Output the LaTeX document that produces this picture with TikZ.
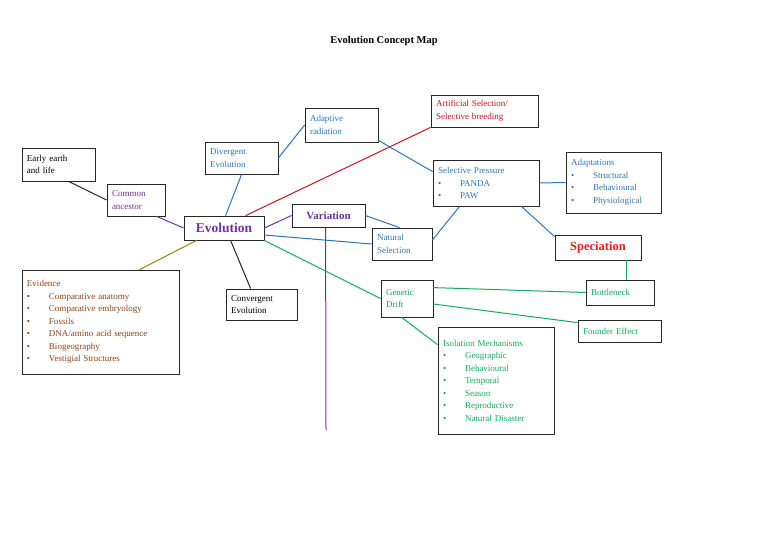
\documentclass[tikz,border=0pt]{standalone}
\usepackage{fontspec}
\setmainfont{Liberation Serif}
\usetikzlibrary{calc}
\definecolor{cblue}{RGB}{46,116,181}
\definecolor{cpurple}{RGB}{112,48,160}
\definecolor{cred}{RGB}{200,20,30}
\definecolor{cbred}{RGB}{235,25,25}
\definecolor{cgreen}{RGB}{20,170,90}
\definecolor{cbrown}{RGB}{140,65,20}
\definecolor{colive}{RGB}{150,130,30}
\newcommand{\bx}[7]{%
 \node[box,text=#6,minimum width={#4-#2},minimum height={#5-#3},text width={#4-#2-10}] (#1) at ({(#2+#4)/2},{(#3+#5)/2}) {#7};}
\newcommand{\bl}{\makebox[22pt][l]{\textbullet}}
\begin{document}
\begin{tikzpicture}[x=1pt,y=-1pt,
 box/.style={draw=black!85,line width=0.8pt,align=left,inner sep=0pt,font=\fontsize{9}{12.5}\selectfont},
 cn/.style={line width=1pt}]
\useasboundingbox (0,0) rectangle (768,543);
\node[font=\bfseries\fontsize{10.5}{12}\selectfont] (title) at (384,41) {Evolution Concept Map};
\bx{ee}{22}{148}{95}{181}{black}{Early earth\\and life}
\bx{ca}{107}{184}{165}{216}{cpurple}{Common\\ancestor}
\node[box,text=cpurple,minimum width=80,minimum height=24,align=center,font=\bfseries\fontsize{13.5}{15}\selectfont] (ev) at (224,228) {Evolution};
\bx{dv}{205}{142}{278}{174}{cblue}{Divergent\\Evolution}
\bx{ar}{305}{108}{378}{142}{cblue}{Adaptive\\radiation}
\bx{af}{431}{95}{538}{127}{cred}{Artificial Selection/\\Selective breeding}
\node[box,text=cpurple,minimum width=73,minimum height=23,align=center,font=\bfseries\fontsize{11}{13}\selectfont] (var) at (328.5,215.5) {Variation};
\bx{ns}{372}{228}{432}{260}{cblue}{Natural\\Selection}
\bx{sp}{433}{160}{539}{206}{cblue}{Selective Pressure\\\bl PANDA\\\bl PAW}
\bx{ad}{566}{152}{661}{213}{cblue}{Adaptations\\\bl Structural\\\bl Behavioural\\\bl Physiological}
\node[box,text=cbred,minimum width=86,minimum height=25,align=center,font=\bfseries\fontsize{12.5}{14}\selectfont] (spc) at (598,247.5) {Speciation};
\bx{gd}{381}{280}{433}{317}{cgreen}{Genetic\\Drift}
\bx{bn}{586}{280}{654}{305}{cgreen}{Bottleneck}
\bx{fe}{578}{320}{661}{342}{cgreen}{Founder Effect}
\bx{im}{438}{327}{554}{434}{cgreen}{Isolation Mechanisms\\\bl Geographic\\\bl Behavioural\\\bl Temporal\\\bl Season\\\bl Reproductive\\\bl Natural Disaster}
\bx{cv}{226}{289}{297}{320}{black}{Convergent\\Evolution}
\bx{evd}{22}{270}{179}{374}{cbrown}{Evidence\\\bl Comparative anatomy\\\bl Comparative embryology\\\bl Fossils\\\bl DNA/amino acid sequence\\\bl Biogeography\\\bl Vestigial Structures}
\coordinate (vend) at (326,430);
\draw[cn,black!85] ($(ee.south west)+(47,0)$) -- (ca.west);
\draw[cn,cpurple] ($(ca.south west)+(50,0)$) -- (ev.west);
\draw[cn,cblue] ($(ev.north west)+(42,0)$) -- ($(dv.south west)+(37,0)$);
\draw[cn,cblue] (dv.east) -- (ar.west);
\draw[cn,cred] ($(ev.north west)+(62,0)$) -- (af.south west);
\draw[cn,cpurple] (ev.east) -- (var.west);
\draw[cn,cpurple] ($(var.south west)+(34,0)$) -- (vend);
\draw[cn,cblue] (var.east) -- ($(ns.north west)+(28,0)$);
\draw[cn,cblue] ($(ev.east)+(0,7)$) -- (ns.west);
\draw[cn,cblue] ($(ns.east)+(0,-4)$) -- ($(sp.south west)+(27,0)$);
\draw[cn,cblue] ($(ar.south east)+(0,-2)$) -- ($(sp.north west)+(0,12)$);
\draw[cn,cblue] (sp.east) -- (ad.west);
\draw[cn,cblue] ($(sp.south east)+(-18,0)$) -- ($(spc.north west)+(0,2)$);
\coordinate (sb) at ($(spc.south east)+(-15,0)$);
\draw[cn,cgreen] (sb) -- (sb |- bn.north);
\draw[cn,cgreen] (ev.south east) -- (gd.west);
\draw[cn,cgreen] ($(gd.north east)+(0,8)$) -- (bn.west);
\draw[cn,cgreen] ($(gd.east)+(0,5.5)$) -- ($(fe.north west)+(0,3)$);
\draw[cn,cgreen] ($(gd.south west)+(21,0)$) -- ($(im.north west)+(0,18)$);
\draw[cn,black!85] ($(ev.south west)+(47,0)$) -- ($(cv.north west)+(25,0)$);
\draw[cn,colive] ($(ev.south west)+(13,0)$) -- ($(evd.north west)+(118,0)$);
\end{tikzpicture}
\end{document}
